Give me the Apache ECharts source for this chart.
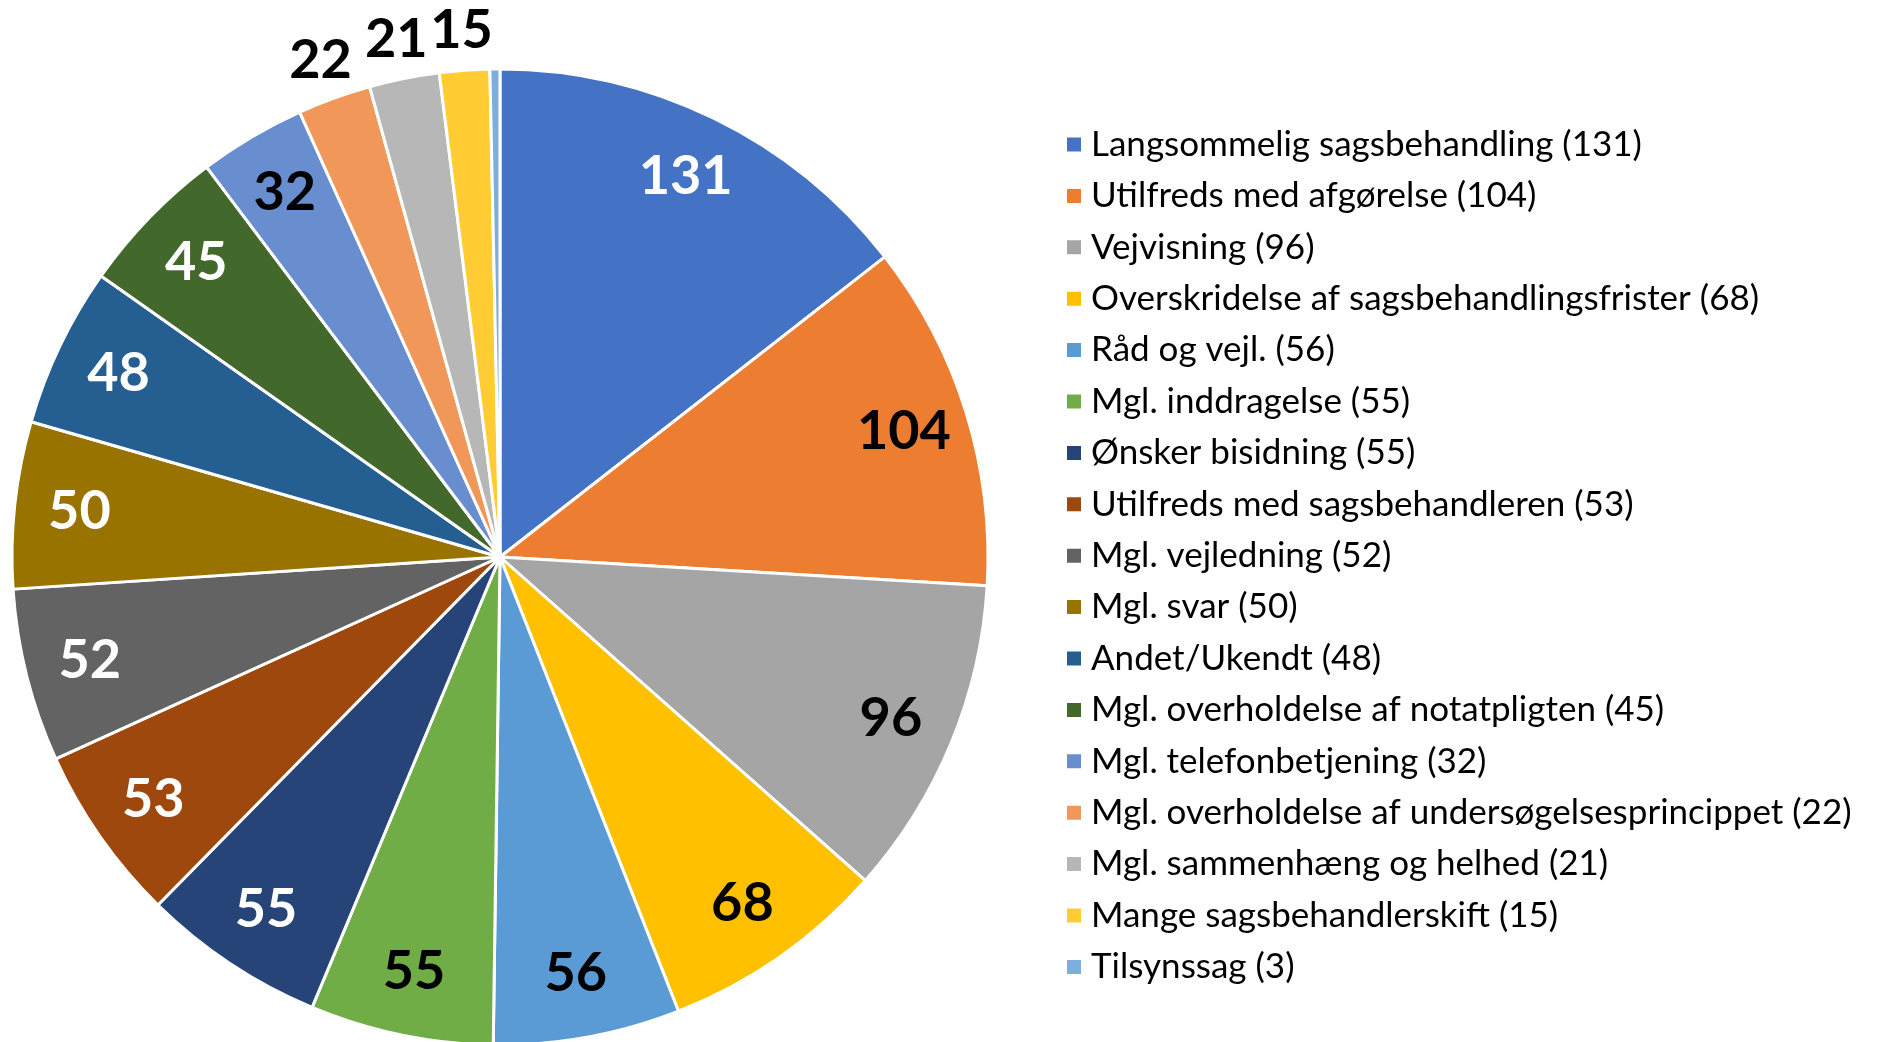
<!DOCTYPE html>
<html>
<head>
<meta charset="utf-8">
<style>
  html, body { margin: 0; padding: 0; background: #fff; }
  #myReport { width: 1879px; height: 1042px; }
</style>
</head>
<body>
<div id="myReport"></div>
<script type="text/javascript" src="https://cdn.jsdelivr.net/npm/echarts@6/dist/echarts.min.js"></script>
<script type="text/javascript">
  // data, clockwise from 12 o'clock
  var names = [
    'Langsommelig sagsbehandling',
    'Utilfreds med afgørelse',
    'Vejvisning',
    'Overskridelse af sagsbehandlingsfrister',
    'Råd og vejl.',
    'Mgl. inddragelse',
    'Ønsker bisidning',
    'Utilfreds med sagsbehandleren',
    'Mgl. vejledning',
    'Mgl. svar',
    'Andet/Ukendt',
    'Mgl. overholdelse af notatpligten',
    'Mgl. telefonbetjening',
    'Mgl. overholdelse af undersøgelsesprincippet',
    'Mgl. sammenhæng og helhed',
    'Mange sagsbehandlerskift',
    'Tilsynssag'
  ];
  var counts = [131, 104, 96, 68, 56, 55, 55, 53, 52, 50, 48, 45, 32, 22, 21, 15, 3];

  // styling
  var colors = ['#4472C4', '#ED7D31', '#A5A5A5', '#FFC000', '#5B9BD5', '#70AD47', '#264478', '#9E480E',
                '#636363', '#997300', '#255E91', '#43682B', '#698ED0', '#F1975A', '#B7B7B7', '#FFCD33', '#7CAFDD'];
  var labelColors = ['#fff', '#000', '#000', '#000', '#000', '#000', '#fff', '#fff',
                     '#fff', '#fff', '#fff', '#fff', '#000', '#000', '#000', '#000', '#000'];
  var outerLabel = [13, 14, 15];   // small slices labelled outside the pie
  var noLabel = [16];

  var lookup = {};
  names.forEach(function (n, i) { lookup[n] = counts[i]; });

  var labelFont = { fontFamily: 'Lato', fontWeight: 'bold', fontSize: 54 };

  var pieData = [], innerLab = [], outerLab = [];
  names.forEach(function (n, i) {
    pieData.push({ name: n, value: counts[i], itemStyle: { color: colors[i] } });
    var isOuter = outerLabel.indexOf(i) >= 0;
    var hidden = noLabel.indexOf(i) >= 0;
    innerLab.push({ name: n, value: counts[i],
      label: { show: !isOuter && !hidden, color: labelColors[i] } });
    outerLab.push({ name: n, value: counts[i],
      label: { show: isOuter, color: labelColors[i] } });
  });

  var myChart = echarts.init(document.getElementById('myReport'));
  var option = {
    animation: false,
    color: colors,
    legend: {
      orient: 'vertical',
      left: 1060,
      top: 122,
      itemWidth: 16,
      itemHeight: 16,
      itemGap: 16.4,
      icon: 'rect',
      data: names,
      formatter: function (n) { return n + ' (' + lookup[n] + ')'; },
      textStyle: { fontFamily: 'Lato', fontSize: 35, lineHeight: 35, color: '#000', padding: [0, 0, 0, 4] }
    },
    series: [
      {
        type: 'pie',
        center: [500, 557],
        radius: [0, 488],
        startAngle: 90,
        silent: true,
        label: { show: false },
        labelLine: { show: false },
        itemStyle: { borderColor: '#fff', borderWidth: 3 },
        data: pieData
      },
      {
        type: 'pie',
        center: [500, 557],
        radius: [352, 488],
        startAngle: 90,
        silent: true,
        avoidLabelOverlap: false,
        itemStyle: { color: 'rgba(0,0,0,0)', borderWidth: 0 },
        label: Object.assign({ position: 'inside', formatter: '{c}' }, labelFont),
        labelLine: { show: false },
        data: innerLab
      },
      {
        type: 'pie',
        center: [500, 557],
        radius: [488, 562],
        startAngle: 90,
        silent: true,
        avoidLabelOverlap: false,
        itemStyle: { color: 'rgba(0,0,0,0)', borderWidth: 0 },
        label: Object.assign({ position: 'inside', formatter: '{c}' }, labelFont),
        labelLine: { show: false },
        data: outerLab
      }
    ]
  };
  myChart.setOption(option);
</script>
</body>
</html>
